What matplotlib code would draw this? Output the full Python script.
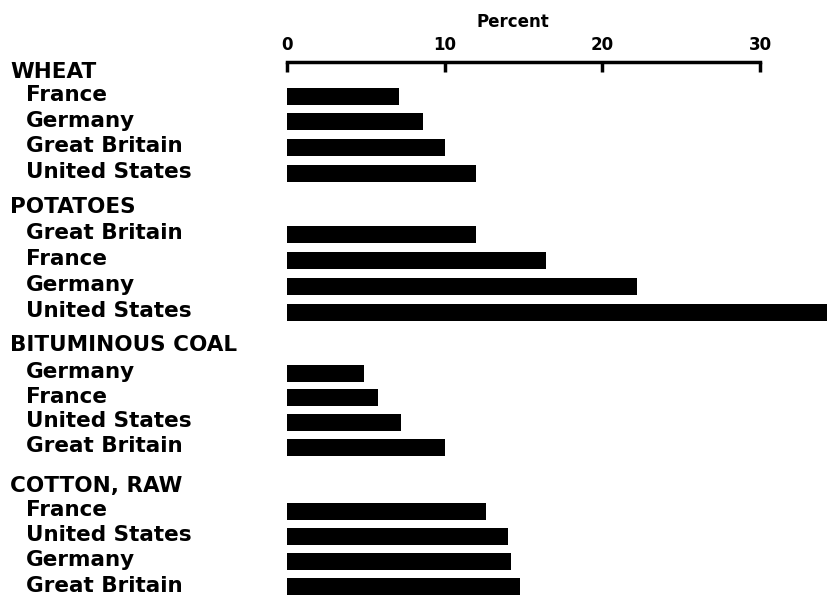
import matplotlib
matplotlib.use("Agg")
import matplotlib.pyplot as plt
import matplotlib.transforms as mtransforms

# data (percent)
groups = ["WHEAT", "POTATOES", "BITUMINOUS COAL", "COTTON, RAW"]
wheat_countries = ["France", "Germany", "Great Britain", "United States"]
wheat_values = [7.1, 8.6, 10.0, 12.0]
potato_countries = ["Great Britain", "France", "Germany", "United States"]
potato_values = [12.0, 16.4, 22.2, 34.5]
coal_countries = ["Germany", "France", "United States", "Great Britain"]
coal_values = [4.9, 5.75, 7.25, 10.0]
cotton_countries = ["France", "United States", "Germany", "Great Britain"]
cotton_values = [12.6, 14.0, 14.2, 14.8]
ticks = [0, 10, 20, 30]

W, H = 828, 598
fig = plt.figure(figsize=(W / 100, H / 100), dpi=100)
fig.patch.set_facecolor("white")

# axes: x=0 at 287px, x=30 at 760px, top line at 62px
x0_px, x30_px, top_px = 287, 760, 62
ax = fig.add_axes([x0_px / W, 0, 1 - x0_px / W, 1 - top_px / H])
ax.set_xlim(0, 30 * (W - x0_px) / (x30_px - x0_px))
ax.set_ylim(H, top_px)  # y in pixels from top

font = dict(family="DejaVu Sans", weight="bold", color="black")
lab = mtransforms.blended_transform_factory(fig.transFigure, ax.transData)

header_y = [72, 207, 345, 486]
row_step = [25.7, 26.0, 24.7, 25.2]
first_off = [24, 27, 28, 25]
all_countries = [wheat_countries, potato_countries, coal_countries, cotton_countries]
all_values = [wheat_values, potato_values, coal_values, cotton_values]

for g, name in enumerate(groups):
    hy = header_y[g]
    ax.text(10 / W, hy, name, transform=lab, ha="left", va="center",
            fontsize=15.5, clip_on=False, **font)
    ys = [hy + first_off[g] + k * row_step[g] for k in range(len(all_values[g]))]
    ax.barh(ys, all_values[g], height=17, color="black")
    for y, c in zip(ys, all_countries[g]):
        ax.text(26 / W, y - 1, c, transform=lab, ha="left", va="center",
                fontsize=15.5, clip_on=False, **font)

# top axis
for s in ["left", "right", "bottom"]:
    ax.spines[s].set_visible(False)
ax.spines["top"].set_linewidth(2.5)
ax.spines["top"].set_bounds(0, 30)
ax.xaxis.tick_top()
ax.set_xticks(ticks)
ax.set_xticklabels([str(t) for t in ticks], fontsize=12, fontweight="bold")
ax.tick_params(axis="x", direction="in", length=7, width=2.5, pad=6)
ax.set_yticks([])
ax.text((513 - x0_px) / (W - x0_px), 1 + 40 / (H - top_px), "Percent",
        transform=ax.transAxes, ha="center", va="center", fontsize=12, **font)

fig.savefig("out.png", dpi=100, facecolor="white")
